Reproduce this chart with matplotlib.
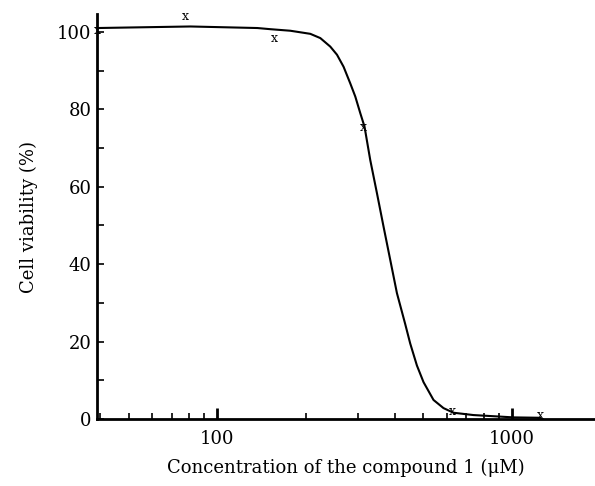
import numpy as np
import matplotlib
matplotlib.use("Agg")
from matplotlib import pyplot as plt
from matplotlib.ticker import LogLocator, FixedLocator, FixedFormatter, NullFormatter

# measured points (two-fold dilutions)
conc = [39.06, 78.125, 156.25, 312.5, 625, 1250]
viability = [100.3, 104.0, 98.4, 75.4, 1.8, 1.0]

# fitted curve
fit_x = [39.2, 81.0, 136.7, 151.3, 176.8, 206.7, 223.5, 241.6, 254.6, 268.0,
         282.4, 293.7, 305.4, 315.7, 330.1, 347.9, 366.2, 385.9, 406.6, 433.8,
         451.0, 475.3, 500.5, 541.1, 584.9, 632.4, 739.3, 910.7, 1010, 1244]
fit_y = [101.0, 101.4, 101.0, 100.7, 100.3, 99.5, 98.4, 96.2, 94.1, 91.0,
         86.7, 83.3, 79.0, 75.5, 66.9, 58.3, 49.7, 41.1, 32.5, 24.5,
         19.5, 13.8, 9.5, 4.9, 2.8, 1.6, 1.0, 0.6, 0.4, 0.3]

plt.rcParams['font.family'] = ['DejaVu Serif']

fig = plt.figure(figsize=(5.95, 4.86), dpi=100)
ax = fig.add_axes([0.163, 0.138, 0.837, 0.833])

ax.plot(fit_x, fit_y, color='black', lw=1.5, solid_joinstyle='round')
for cx, cy in zip(conc, viability):
    ax.text(cx, cy, 'x', ha='center', va='center', fontsize=9)

ax.set_xscale('log')
ax.set_xlim(39.06, 1910)
ax.set_ylim(0, 104.6)

ax.xaxis.set_major_locator(FixedLocator([100, 1000]))
ax.xaxis.set_major_formatter(FixedFormatter(['100', '1000']))
ax.xaxis.set_minor_locator(LogLocator(base=10, subs=np.arange(2, 10)))
ax.xaxis.set_minor_formatter(NullFormatter())
ax.set_yticks([0, 20, 40, 60, 80, 100])
ax.set_yticks([10, 30, 50, 70, 90], minor=True)

for s in ['top', 'right']:
    ax.spines[s].set_visible(False)
for s in ['left', 'bottom']:
    ax.spines[s].set_linewidth(2)

ax.tick_params(which='both', direction='in', labelsize=13, width=1.2)
ax.tick_params(axis='x', which='major', length=8, width=2, pad=8)
ax.tick_params(axis='x', which='minor', length=4)
ax.tick_params(axis='y', which='major', length=5, pad=4)
ax.tick_params(axis='y', which='minor', length=5)

ax.set_xlabel('Concentration of the compound 1 (μM)', fontsize=13, labelpad=7.5)
ax.set_ylabel('Cell viability (%)', fontsize=13, labelpad=13.5)

fig.savefig('out.png', dpi=100)
